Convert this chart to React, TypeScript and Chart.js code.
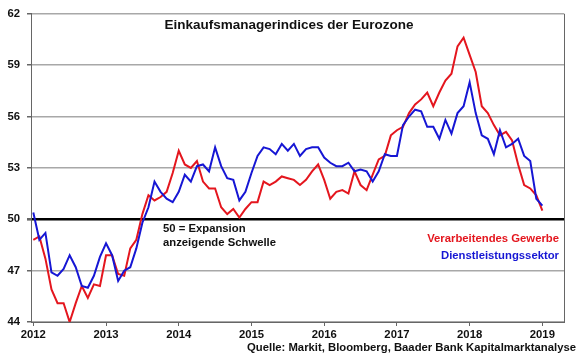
import { useEffect, useRef } from 'react';
import { Chart, registerables } from 'chart.js';

Chart.register(...registerables);

const yearLabels = ['2012', '2013', '2014', '2015', '2016', '2017', '2018', '2019'];

// Monthly values Jan 2012 - Jan 2019
const manufacturing = [
  48.8, 49.0, 47.7, 45.9, 45.1, 45.1, 44.0, 45.1, 46.1, 45.4, 46.2, 46.1,
  47.9, 47.9, 46.8, 46.7, 48.3, 48.8, 50.3, 51.4, 51.1, 51.3, 51.6, 52.7,
  54.0, 53.2, 53.0, 53.4, 52.2, 51.8, 51.8, 50.7, 50.3, 50.6, 50.1, 50.6,
  51.0, 51.0, 52.2, 52.0, 52.2, 52.5, 52.4, 52.3, 52.0, 52.3, 52.8, 53.2,
  52.3, 51.2, 51.6, 51.7, 51.5, 52.8, 52.0, 51.7, 52.6, 53.5, 53.7, 54.9,
  55.2, 55.4, 56.2, 56.7, 57.0, 57.4, 56.6, 57.4, 58.1, 58.5, 60.1, 60.6,
  59.6, 58.6, 56.6, 56.2, 55.5, 54.9, 55.1, 54.6, 53.2, 52.0, 51.8, 51.4,
  50.5,
];

const services = [
  50.4, 48.8, 49.2, 46.9, 46.7, 47.1, 47.9, 47.2, 46.1, 46.0, 46.7, 47.8,
  48.6, 47.9, 46.4, 47.0, 47.2, 48.3, 49.8, 50.7, 52.2, 51.6, 51.2, 51.0,
  51.6, 52.6, 52.2, 53.1, 53.2, 52.8, 54.2, 53.1, 52.4, 52.3, 51.1, 51.6,
  52.7, 53.7, 54.2, 54.1, 53.8, 54.4, 54.0, 54.4, 53.7, 54.1, 54.2, 54.2,
  53.6, 53.3, 53.1, 53.1, 53.3, 52.8, 52.9, 52.8, 52.2, 52.8, 53.8, 53.7,
  53.7, 55.5, 56.0, 56.4, 56.3, 55.4, 55.4, 54.7, 55.8, 55.0, 56.2, 56.6,
  58.0, 56.2, 54.9, 54.7, 53.8, 55.2, 54.2, 54.4, 54.7, 53.7, 53.4, 51.2,
  50.8,
];

const yMin = 44;
const yMax = 62;
const yStep = 3;
const threshold = 50;

const titleText = 'Einkaufsmanagerindices der Eurozone';
const noteLines = ['50 = Expansion', 'anzeigende Schwelle'];
const seriesNames = ['Verarbeitendes Gewerbe', 'Dienstleistungssektor'];
const sourceText = 'Quelle: Markit, Bloomberg, Baader Bank Kapitalmarktanalyse';

const RED = 'rgb(228,22,30)';
const BLUE = 'rgb(22,22,212)';
const FONT = '"Liberation Sans", Arial, Helvetica, sans-serif';

const framePlugin = {
  id: 'frame',
  beforeDatasetsDraw(chart: any) {
    const { ctx, chartArea } = chart;
    ctx.save();
    ctx.strokeStyle = '#666';
    ctx.lineWidth = 1;
    ctx.beginPath();
    ctx.moveTo(chartArea.right + 0.5, chartArea.top);
    ctx.lineTo(chartArea.right + 0.5, chartArea.bottom);
    ctx.stroke();
    ctx.restore();
  },
  afterDraw(chart: any) {
    const { ctx } = chart;
    ctx.save();
    ctx.textBaseline = 'middle';
    ctx.fillStyle = '#111';
    ctx.font = `bold 13.5px ${FONT}`;
    ctx.textAlign = 'center';
    ctx.fillText(titleText, 289, 25);

    ctx.font = `bold 11.3px ${FONT}`;
    ctx.textAlign = 'left';
    ctx.fillText(noteLines[0], 163, 229);
    ctx.fillText(noteLines[1], 163, 243);

    ctx.textAlign = 'right';
    ctx.fillStyle = RED;
    ctx.fillText(seriesNames[0], 559, 239);
    ctx.fillStyle = BLUE;
    ctx.fillText(seriesNames[1], 559, 256);

    ctx.fillStyle = '#111';
    ctx.fillText(sourceText, 576, 348);
    ctx.restore();
  },
};

export default function App() {
  const ref = useRef<HTMLCanvasElement | null>(null);

  useEffect(() => {
    if (!ref.current) return;
    const chart = new Chart(ref.current, {
      type: 'line',
      data: {
        datasets: [
          {
            label: seriesNames[0],
            data: manufacturing.map((v, i) => ({ x: i, y: v })),
            borderColor: RED,
            backgroundColor: RED,
            borderWidth: 2,
            pointRadius: 0,
            tension: 0,
            order: 1,
          },
          {
            label: seriesNames[1],
            data: services.map((v, i) => ({ x: i, y: v })),
            borderColor: BLUE,
            backgroundColor: BLUE,
            borderWidth: 2,
            pointRadius: 0,
            tension: 0,
            order: 0,
          },
        ],
      },
      plugins: [framePlugin],
      options: {
        animation: false,
        responsive: true,
        maintainAspectRatio: false,
        layout: { padding: { top: 10, right: 16, left: 0, bottom: 0 } },
        plugins: {
          legend: { display: false },
          tooltip: { enabled: false },
          title: { display: false },
        },
        scales: {
          x: {
            type: 'linear',
            min: -0.38,
            max: 87.57,
            afterBuildTicks: (axis: any) => {
              axis.ticks = yearLabels.map((_, k) => ({ value: k * 12 }));
            },
            afterFit: (axis: any) => {
              axis.height = 37;
            },
            ticks: {
              autoSkip: false,
              maxRotation: 0,
              padding: 2,
              color: '#111',
              font: { family: FONT, size: 11.3, weight: 'bold' },
              callback: (_v: any, index: number) => yearLabels[index],
            },
            grid: {
              drawOnChartArea: false,
              drawTicks: true,
              tickLength: 4,
              tickColor: '#666',
            },
            border: { display: true, color: '#666', width: 1 },
          },
          y: {
            min: yMin,
            max: yMax,
            afterFit: (axis: any) => {
              axis.width = 31;
            },
            ticks: {
              stepSize: yStep,
              padding: 7,
              color: '#111',
              font: { family: FONT, size: 11.3, weight: 'bold' },
            },
            grid: {
              drawTicks: true,
              tickLength: 4,
              tickColor: '#666',
              color: (c: any) => (c.tick && c.tick.value === threshold ? '#000' : '#a8a8a8'),
              lineWidth: (c: any) => (c.tick && c.tick.value === threshold ? 2.6 : 1.5),
            },
            border: { display: true, color: '#666', width: 1 },
          },
        },
      },
    });
    return () => chart.destroy();
  }, []);

  return (
    <div style={{ position: 'fixed', left: 0, top: 0, width: 580, height: 359, background: '#fff' }}>
      <canvas ref={ref} />
    </div>
  );
}
